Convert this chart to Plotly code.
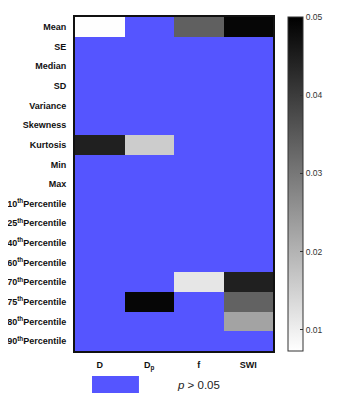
import plotly.graph_objects as go

rows = ["Mean", "SE", "Median", "SD", "Variance", "Skewness", "Kurtosis", "Min", "Max",
        "10<sup>th</sup>Percentile", "25<sup>th</sup>Percentile", "40<sup>th</sup>Percentile",
        "60<sup>th</sup>Percentile", "70<sup>th</sup>Percentile", "75<sup>th</sup>Percentile",
        "80<sup>th</sup>Percentile", "90<sup>th</sup>Percentile"]
cols = ["D", "D<sub>p</sub>", "f", "SWI"]

N = None
# p-values (None = p > 0.05)
p_D   = [0.0075, N, N, N, N, N, 0.0447, N, N, N, N, N, N, N, N, N, N]
p_Dp  = [N, N, N, N, N, N, 0.0158, N, N, N, N, N, N, N, 0.0490, N, N]
p_f   = [0.0340, N, N, N, N, N, N, N, N, N, N, N, N, 0.0115, N, N, N]
p_SWI = [0.0490, N, N, N, N, N, N, N, N, N, N, N, N, 0.0447, 0.0336, 0.0227, N]

cbar_ticks = [0.01, 0.02, 0.03, 0.04, 0.05]
legend_text = "<i>p</i> > 0.05"

z = [[p_D[i], p_Dp[i], p_f[i], p_SWI[i]] for i in range(len(rows))]

BLUE = "#5555FF"
FONT = "Liberation Sans, Arial"

fig = go.Figure(go.Heatmap(
    z=z, x=cols, y=rows,
    zmin=0.0073, zmax=0.05,
    colorscale=[[0, "#FFFFFF"], [1, "#000000"]],
    hoverongaps=False,
    colorbar=dict(
        x=1.0758, xanchor="left", xpad=0,
        y=0.5, yanchor="middle", ypad=0,
        len=1, lenmode="fraction",
        thickness=15,
        outlinewidth=1, outlinecolor="#333333",
        tickvals=cbar_ticks, ticktext=[f"{t:.2f}" for t in cbar_ticks],
        ticks="inside", ticklen=3, tickcolor="#333333",
        tickfont=dict(family=FONT, size=8.5, color="#333333"),
    ),
))

# page body has an 8px margin, so the figure is 8px smaller and offsets reduced
fig.update_layout(
    width=331, height=392,
    margin=dict(l=67, r=66, t=9, b=49, autoexpand=False),
    paper_bgcolor="white",
    plot_bgcolor=BLUE,
    font=dict(family=FONT, color="#111111"),
    shapes=[dict(type="rect", xref="paper", yref="paper",
                 x0=0.0859, x1=0.323, y0=-0.1257, y1=-0.0749,
                 fillcolor=BLUE, line=dict(width=0))],
    annotations=[dict(xref="paper", yref="paper", x=0.505, y=-0.102,
                      xanchor="left", yanchor="middle", showarrow=False,
                      text=legend_text,
                      font=dict(family=FONT, size=11.5, color="#222222"))],
)
fig.update_xaxes(showgrid=False, zeroline=False, showline=True, mirror=True,
                 linecolor="#111111", linewidth=2, ticks="", automargin=False,
                 ticklabelstandoff=4,
                 tickfont=dict(family=FONT, size=9, color="#111111", weight="bold"))
fig.update_yaxes(showgrid=False, zeroline=False, showline=True, mirror=True,
                 linecolor="#111111", linewidth=2, ticks="", autorange="reversed",
                 automargin=False, ticklabelstandoff=5,
                 tickfont=dict(family=FONT, size=9, color="#111111", weight="bold"))

fig.write_html("out.html")
